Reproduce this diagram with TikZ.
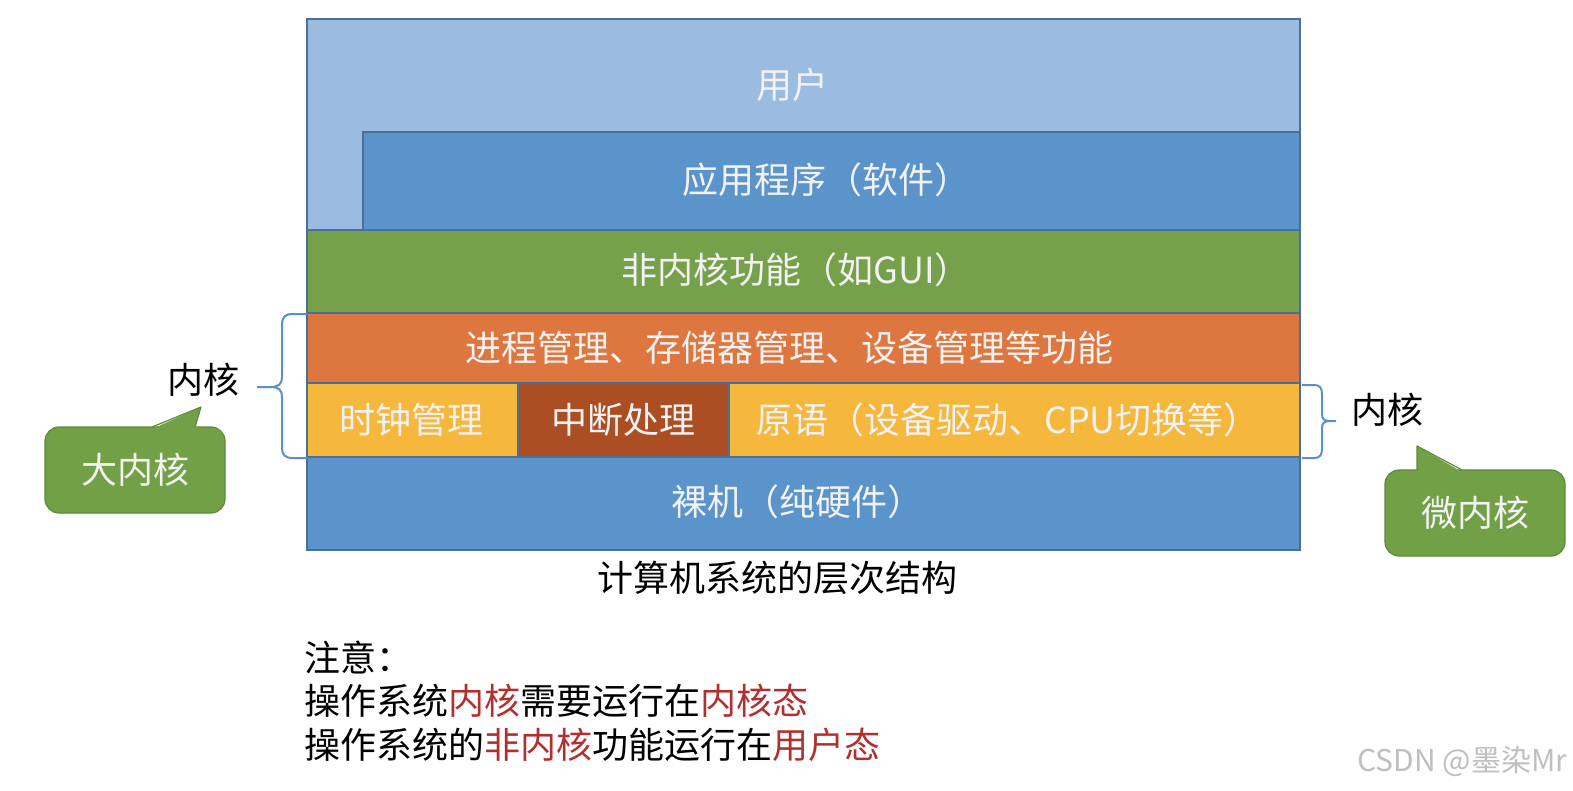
\documentclass[tikz,border=0pt]{standalone}
\usepackage{fontspec}
\setmainfont{Noto Sans CJK SC}
\definecolor{userblue}{HTML}{9BBBE0}
\definecolor{appblue}{HTML}{5B93CB}
\definecolor{kgreen}{HTML}{76A04A}
\definecolor{korange}{HTML}{DE773F}
\definecolor{kyellow}{HTML}{F5B83D}
\definecolor{kbrown}{HTML}{AB4E24}
\definecolor{edge}{HTML}{4A6F98}
\definecolor{bracecol}{HTML}{5B8FC9}
\definecolor{cfill}{HTML}{71A046}
\definecolor{cedge}{HTML}{5E8A3A}
\definecolor{notered}{HTML}{B03030}
\tikzset{
  layer/.style={draw=edge, line width=0.6pt},
  lbl/.style={font=\fontsize{18pt}{21pt}\selectfont, text=white!95!black, inner sep=0pt},
  blk/.style={font=\fontsize{18pt}{21pt}\selectfont, text=black, inner sep=0pt},
  note/.style={font=\fontsize{18pt}{21pt}\selectfont, text=black, inner sep=0pt, anchor=west},
  bracestyle/.style={draw=bracecol, line width=1pt, line join=round},
  callout/.style={fill=cfill, draw=cedge, line width=0.6pt, rounded corners=7pt,
    minimum width=90pt, minimum height=43pt, font=\fontsize{18pt}{21pt}\selectfont, text=white!95!black},
  ptrfill/.style={fill=cfill},
  ptredge/.style={draw=cedge, line width=0.6pt, line join=round},
}
\begin{document}
\begin{tikzpicture}[x=0.5pt,y=-0.5pt]
\useasboundingbox (0,0) rectangle (1573,791);
\fill[white] (0,0) rectangle (1573,791);

% layers
\draw[layer, fill=userblue] (307,19) rectangle (1300,230);
\draw[layer, fill=appblue] (363,132) rectangle (1300,230);
\draw[layer, fill=kgreen] (307,230) rectangle (1300,313);
\draw[layer, fill=korange] (307,313) rectangle (1300,383);
\draw[layer, fill=kyellow] (307,383) rectangle (518,457);
\draw[layer, fill=kbrown] (518,383) rectangle (729,457);
\draw[layer, fill=kyellow] (729,383) rectangle (1300,457);
\draw[layer, fill=appblue] (307,457) rectangle (1300,550);

\node[lbl] (user) at (792,85) {用户};
\node[lbl] (app) at (826,180) {应用程序（软件）};
\node[lbl] (nonk) at (796,270) {非内核功能（如GUI）};
\node[lbl] (proc) at (789,348) {进程管理、存储器管理、设备管理等功能};
\node[lbl] (clock) at (411,420) {时钟管理};
\node[lbl] (intr) at (623,420) {中断处理};
\node[lbl] (prim) at (1008,420) {原语（设备驱动、CPU切换等）};
\node[lbl] (bare) at (797,502) {裸机（纯硬件）};

\node[blk] (caption) at (777,578) {计算机系统的层次结构};

% left brace
\coordinate (lbtop) at (307,314);
\coordinate (lbbot) at (307,458);
\coordinate (lbtip) at (257,387);
\draw[bracestyle] (lbtop) -- (293,314) .. controls (285,314) and (282,317) .. (282,325)
  -- (282,377) .. controls (282,384) and (279,387) .. (270,387) -- (lbtip);
\draw[bracestyle] (270,387) .. controls (279,387) and (282,390) .. (282,397)
  -- (282,448) .. controls (282,455) and (285,458) .. (293,458) -- (lbbot);
\node[blk] (kleft) at (203,380) {内核};

% right brace
\coordinate (rbtop) at (1302,385);
\coordinate (rbbot) at (1302,458);
\coordinate (rbtip) at (1336,421);
\draw[bracestyle] (rbtop) -- (1314,385) .. controls (1320,385) and (1322,388) .. (1322,394)
  -- (1322,414) .. controls (1322,419) and (1324,421) .. (1330,421) -- (rbtip);
\draw[bracestyle] (1330,421) .. controls (1324,421) and (1322,423) .. (1322,428)
  -- (1322,449) .. controls (1322,455) and (1320,458) .. (1314,458) -- (rbbot);
\node[blk] (kright) at (1387,410) {内核};

% callout 大内核
\node[callout] (big) at (135,470) {大内核};
\coordinate (bigtip) at (201,407);
\fill[ptrfill] (152,429) -- (bigtip) -- (195,429) -- cycle;
\draw[ptredge] (152,427) -- (bigtip) -- (195,427);

% callout 微内核
\node[callout] (micro) at (1475,513) {微内核};
\coordinate (microtip) at (1417,446);
\fill[ptrfill] (1417,472) -- (microtip) -- (1462,472) -- cycle;
\draw[ptredge] (1417,470) -- (microtip) -- (1462,470);

% notes
\node[note] (n1) at (304,657) {注意：};
\node[note] (n2) at (304,701) {操作系统\textcolor{notered}{内核}需要运行在\textcolor{notered}{内核态}};
\node[note] (n3) at (304,745) {操作系统的\textcolor{notered}{非内核}功能运行在\textcolor{notered}{用户态}};

% watermark
\node[font=\fontsize{15pt}{17pt}\selectfont, text=black!25, inner sep=0pt, anchor=west] (wm) at (1357,761) {CSDN @墨染Mr};
\end{tikzpicture}
\end{document}
